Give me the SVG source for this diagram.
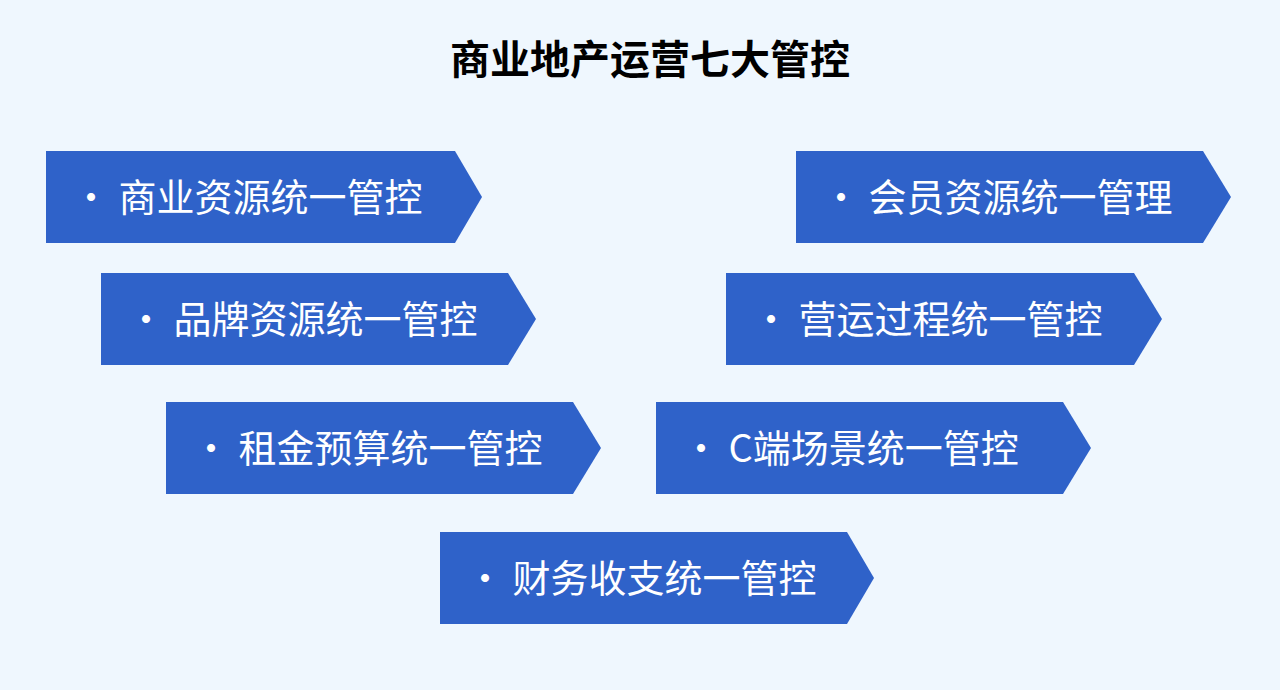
<svg xmlns="http://www.w3.org/2000/svg" width="1280" height="690" viewBox="0 0 1280 690">
<style>
.a{fill:#2F62C9}
.t{font-family:"Noto Sans CJK SC","Noto Sans",sans-serif;font-size:38px;fill:#fff}
.h{font-family:"Noto Sans CJK SC",sans-serif;font-size:40px;font-weight:bold;fill:#000}
</style>
<rect width="1280" height="690" fill="#EFF7FE"/>
<text class="h" x="650" y="74" text-anchor="middle">商业地产运营七大管控</text>
<g id="n1"><path class="a" d="M46 151H455L482 197L455 243H46Z"/><text class="t" x="72" y="211">• 商业资源统一管控</text></g>
<g id="n2"><path class="a" d="M796 151H1203L1231 197L1203 243H796Z"/><text class="t" x="822" y="211">• 会员资源统一管理</text></g>
<g id="n3"><path class="a" d="M101 273H508L536 319L508 365H101Z"/><text class="t" x="127" y="333">• 品牌资源统一管控</text></g>
<g id="n4"><path class="a" d="M726 273H1134L1162 319L1134 365H726Z"/><text class="t" x="752" y="333">• 营运过程统一管控</text></g>
<g id="n5"><path class="a" d="M166 402H573L601 448L573 494H166Z"/><text class="t" x="192" y="462">• 租金预算统一管控</text></g>
<g id="n6"><path class="a" d="M656 402H1063L1091 448L1063 494H656Z"/><text class="t" x="682" y="462">• C端场景统一管控</text></g>
<g id="n7"><path class="a" d="M440 532H847L874 578L847 624H440Z"/><text class="t" x="466" y="592">• 财务收支统一管控</text></g>
<g id="connectors"/>
</svg>
